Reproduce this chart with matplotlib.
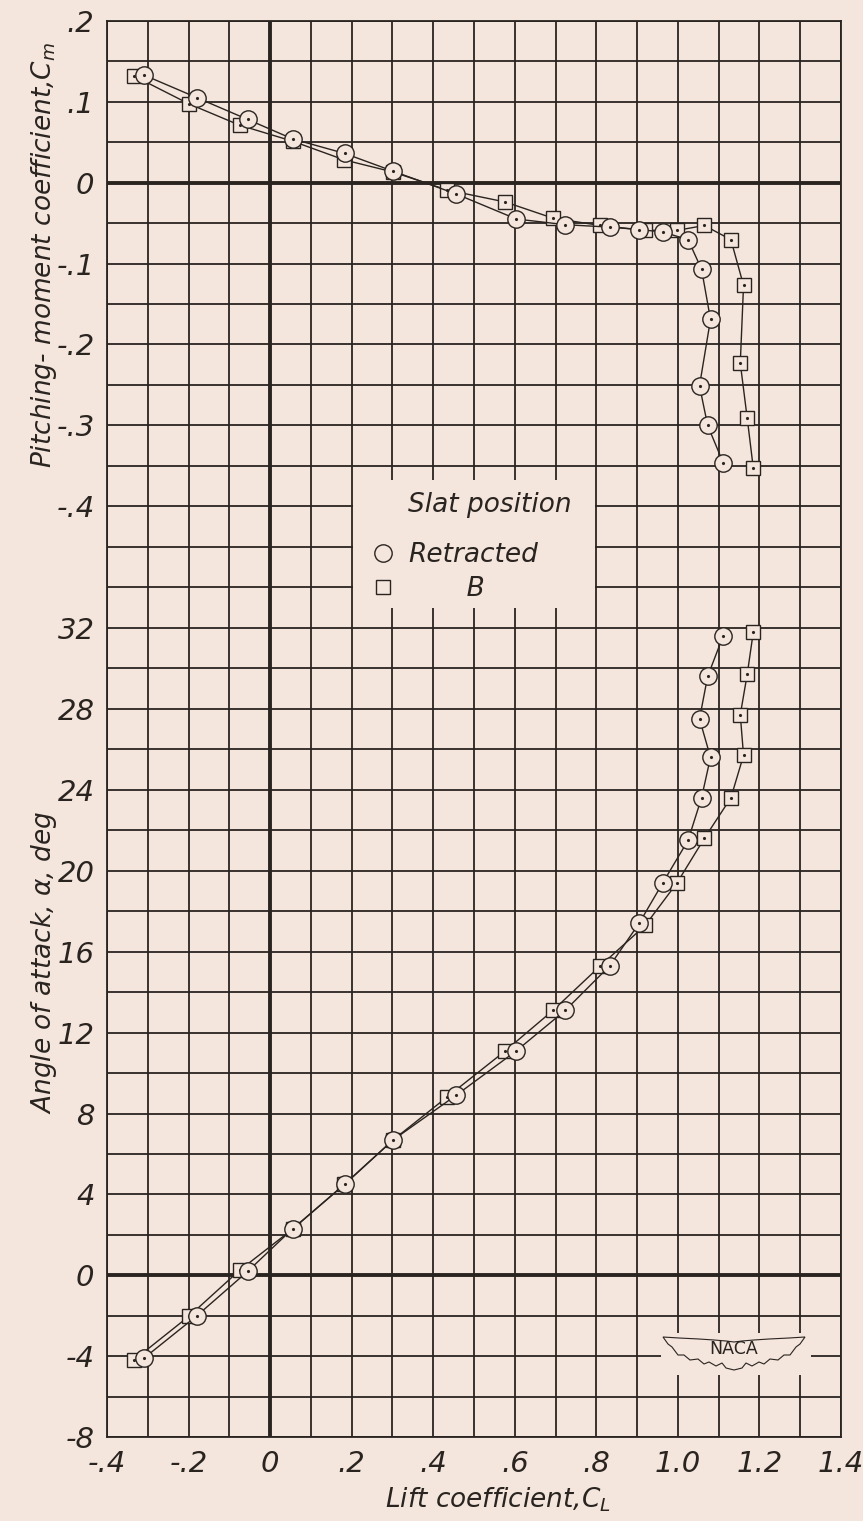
import matplotlib
matplotlib.use("Agg")
import matplotlib.pyplot as plt
import numpy as np
from matplotlib.lines import Line2D
from matplotlib.patches import Rectangle, Polygon

PAPER = "#f4e5dd"
INK = "#2a2420"

# Slat retracted
cl_ret = [-0.31, -0.18, -0.055, 0.055, 0.183, 0.302, 0.456, 0.604, 0.724, 0.833,
          0.905, 0.963, 1.025, 1.058, 1.080, 1.053, 1.073, 1.111]
alpha_ret = [-4.1, -2.0, 0.2, 2.3, 4.5, 6.7, 8.9, 11.1, 13.1, 15.3,
             17.4, 19.4, 21.5, 23.6, 25.6, 27.5, 29.6, 31.6]
cm_ret = [0.133, 0.105, 0.078, 0.054, 0.036, 0.014, -0.014, -0.045, -0.052, -0.055,
          -0.058, -0.061, -0.0705, -0.107, -0.169, -0.251, -0.300, -0.346]

# Slat position B
cl_b = [-0.335, -0.198, -0.075, 0.056, 0.182, 0.302, 0.433, 0.577, 0.694, 0.810,
        0.920, 0.998, 1.065, 1.130, 1.161, 1.153, 1.170, 1.185]
alpha_b = [-4.2, -2.0, 0.25, 2.3, 4.5, 6.7, 8.8, 11.1, 13.1, 15.3,
           17.3, 19.4, 21.6, 23.6, 25.7, 27.7, 29.7, 31.8]
cm_b = [0.132, 0.097, 0.071, 0.051, 0.028, 0.013, -0.009, -0.024, -0.044, -0.053,
        -0.059, -0.059, -0.053, -0.0705, -0.127, -0.223, -0.291, -0.353]

x_ticks = [-0.4, -0.2, 0.0, 0.2, 0.4, 0.6, 0.8, 1.0, 1.2, 1.4]
x_tick_labels = ["-.4", "-.2", "0", ".2", ".4", ".6", ".8", "1.0", "1.2", "1.4"]
alpha_ticks = [-8, -4, 0, 4, 8, 12, 16, 20, 24, 28, 32]
alpha_tick_labels = ["-8", "-4", "0", "4", "8", "12", "16", "20", "24", "28", "32"]
cm_ticks = [-0.4, -0.3, -0.2, -0.1, 0.0, 0.1, 0.2]
cm_tick_labels = ["-.4", "-.3", "-.2", "-.1", "0", ".1", ".2"]

plt.rcParams["font.family"] = ["DejaVu Sans"]
plt.rcParams["font.style"] = "italic"
plt.rcParams["mathtext.fontset"] = "dejavusans"

W, H = 863, 1521
fig = plt.figure(figsize=(W / 100, H / 100), dpi=100, facecolor=PAPER)

left, right, top, bottom = 107, 841, 20.7, 1437.3
ax = fig.add_axes([left / W, 1 - bottom / H, (right - left) / W, (bottom - top) / H])
ax.set_facecolor(PAPER)

# alpha axis occupies the lower 20 rows; the sheet continues upward in 2-deg rows
ax.set_xlim(-0.4, 1.4)
ax.set_ylim(-8, 62)

ax_cm = ax.twinx()
ax_cm.set_ylim(-1.55, 0.2)
ax_cm.patch.set_visible(False)

grid_lw = 1.3
for xv in np.arange(-0.4, 1.401, 0.1):
    ax.axvline(xv, color=INK, lw=grid_lw, zorder=1)
for yv in np.arange(-8, 62.01, 2):
    ax.axhline(yv, color=INK, lw=grid_lw, zorder=1)
ax.axvline(0, color=INK, lw=2.8, zorder=1.2)
ax.axhline(0, color=INK, lw=2.8, zorder=1.2)
ax.axhline(54, color=INK, lw=2.8, zorder=1.2)  # Cm = 0 line

for sp in ax.spines.values():
    sp.set_color(INK)
    sp.set_linewidth(grid_lw)
for sp in ax_cm.spines.values():
    sp.set_visible(False)

# blank panel for the key
ax.add_patch(Rectangle((0.204, 33.0), 0.592, 6.3, facecolor=PAPER, edgecolor="none", zorder=2))

tick_font = dict(fontsize=21, fontstyle="italic")
ax.set_xticks(x_ticks)
ax.set_xticklabels(x_tick_labels, **tick_font)
ax.set_yticks(alpha_ticks)
ax.set_yticklabels(alpha_tick_labels, **tick_font)
ax.tick_params(length=0, pad=9, colors=INK)
ax_cm.yaxis.tick_left()
ax_cm.set_yticks(cm_ticks)
ax_cm.set_yticklabels(cm_tick_labels, **tick_font)
ax_cm.tick_params(length=0, pad=9, colors=INK)

sq_style = dict(marker="s", ms=10.5, mfc=PAPER, mec=INK, mew=1.0, color=INK, lw=1.0)
ci_style = dict(marker="o", ms=12.5, mfc=PAPER, mec=INK, mew=1.0, color=INK, lw=1.0)
dot_style = dict(marker=".", ms=2.5, color=INK, ls="none")

ax.plot(cl_b, alpha_b, zorder=3, **sq_style)
ax.plot(cl_b, alpha_b, zorder=3.1, **dot_style)
ax.plot(cl_ret, alpha_ret, zorder=4, **ci_style)
ax.plot(cl_ret, alpha_ret, zorder=4.1, **dot_style)

ax_cm.plot(cl_b, cm_b, zorder=3, **sq_style)
ax_cm.plot(cl_b, cm_b, zorder=3.1, **dot_style)
ax_cm.plot(cl_ret, cm_ret, zorder=4, **ci_style)
ax_cm.plot(cl_ret, cm_ret, zorder=4.1, **dot_style)

# key
fig.text(490 / W, 1 - 505 / H, "Slat position", fontsize=19, fontstyle="italic",
         color=INK, ha="center", va="center", zorder=7)
h_ret = Line2D([], [], marker="o", ms=12.5, mfc=PAPER, mec=INK, mew=1.0, ls="none")
h_b = Line2D([], [], marker="s", ms=10.5, mfc=PAPER, mec=INK, mew=1.0, ls="none")
leg = ax.legend([h_ret, h_b], ["Retracted", "       B"],
                loc="upper left", bbox_to_anchor=(359 / W, 1 - 529 / H),
                bbox_transform=fig.transFigure, frameon=False,
                prop=dict(size=19, style="italic"),
                handletextpad=0.55, labelspacing=0.3, borderpad=0, handlelength=0.8)
for t in leg.get_texts():
    t.set_color(INK)
leg.set_zorder(6)

# axis titles
lbl = dict(fontsize=19, fontstyle="italic", color=INK, ha="center", va="center")
fig.text(498 / W, 1 - 1500 / H, "Lift coefficient,$\\mathit{C_L}$", **lbl)
fig.text(44 / W, 1 - 255 / H, "Pitching- moment coefficient,$\\mathit{C_m}$", rotation=90, **lbl)
fig.text(44 / W, 1 - 962 / H, "Angle of attack, $\\alpha$, deg", rotation=90, **lbl)

# NACA wing emblem
def px(x, y):
    return (x / W, 1 - y / H)

fig.add_artist(Rectangle(px(661, 1375), 150 / W, 42 / H, transform=fig.transFigure,
                         facecolor=PAPER, edgecolor="none", zorder=5))
cx, cy = 734, 1350
half = [(-71, -13), (-55, -12), (-35, -11), (-20, -10), (-8, -9), (0, -8)]
lower = [(0, 20), (-8, 18), (-12, 13), (-18, 16), (-25, 12), (-30, 14), (-36, 9),
         (-44, 10), (-50, 5), (-56, 5), (-62, -3), (-66, -6), (-71, -13)]
pts = half + [(-x, y) for (x, y) in reversed(half)][1:]
pts += [(-x, y) for (x, y) in reversed(lower)][1:] + lower[1:]
wing = Polygon([px(cx + dx, cy + dy) for dx, dy in pts], closed=True,
               transform=fig.transFigure, facecolor=PAPER, edgecolor=INK, lw=0.8, zorder=6)
fig.add_artist(wing)
fig.text(cx / W, 1 - (cy - 1) / H, "NACA", fontsize=12.5, fontstyle="normal", color=INK,
         ha="center", va="center", zorder=7)

fig.savefig("out.png", dpi=100, facecolor=PAPER)
